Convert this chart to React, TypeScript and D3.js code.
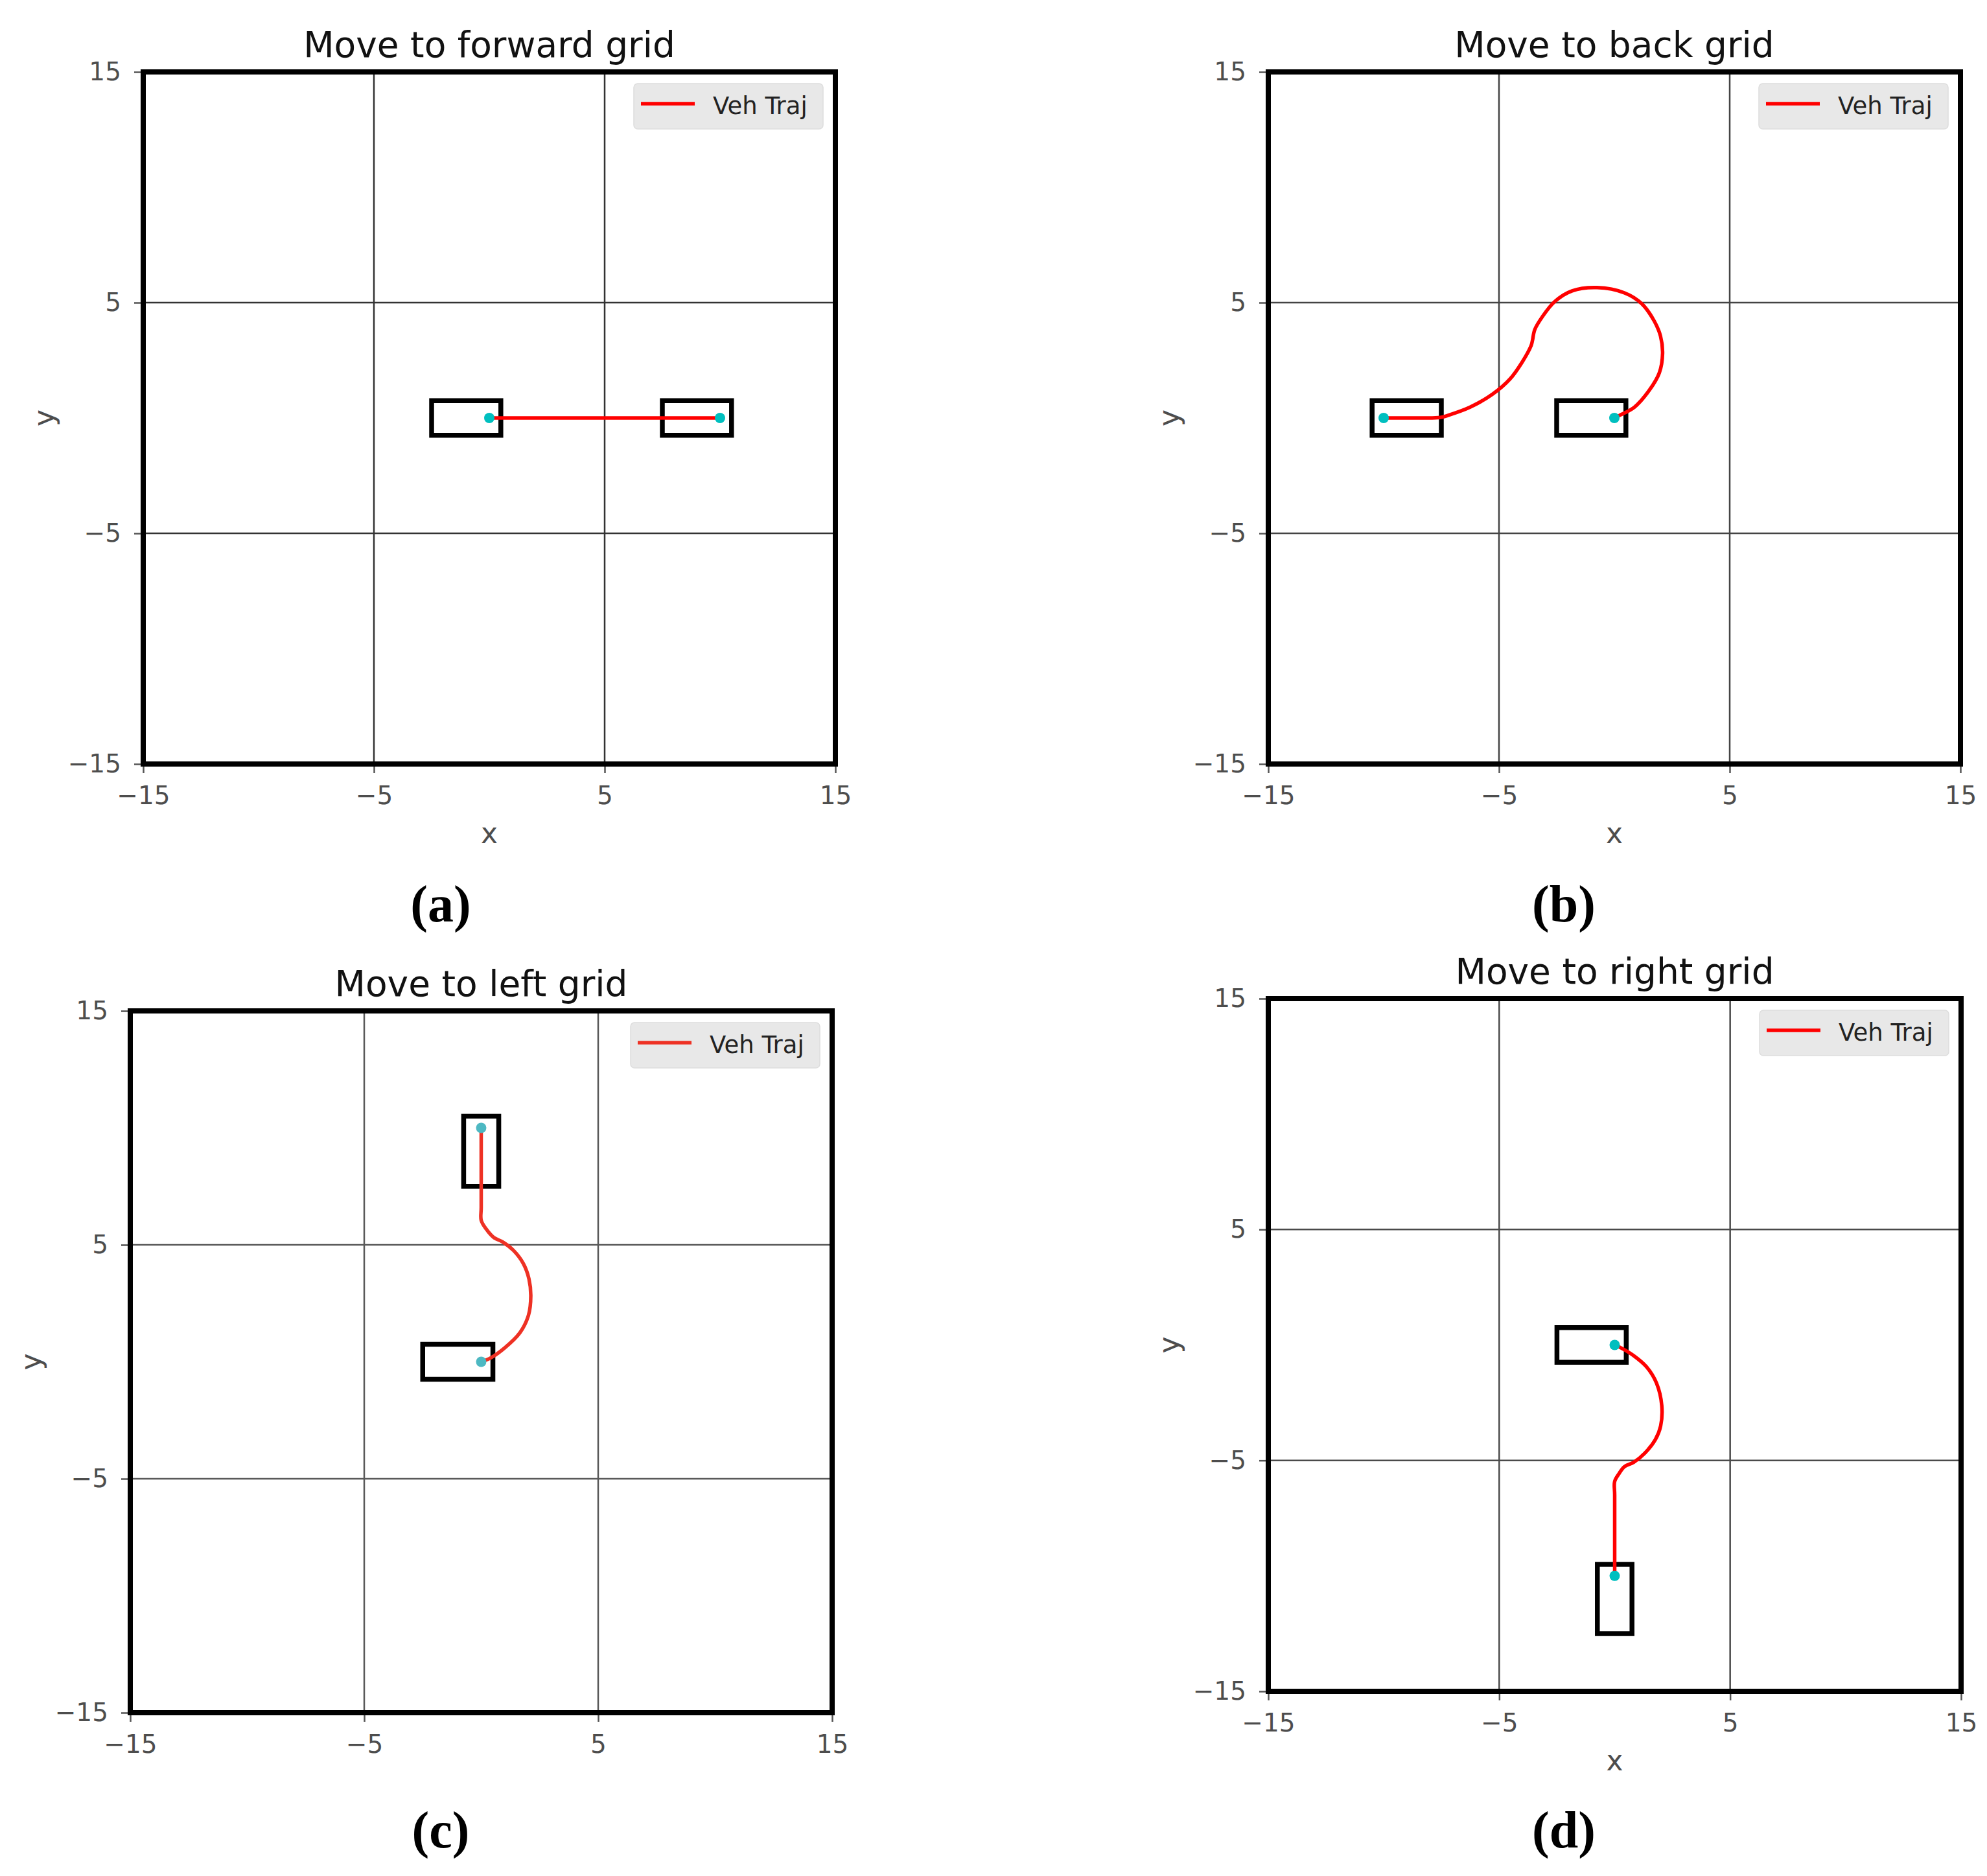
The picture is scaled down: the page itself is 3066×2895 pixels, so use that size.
import * as d3 from 'd3'
import React, { useEffect, useRef } from 'react'

type Pt = [number, number]
// x, y, heading in degrees
type Pose = [number, number, number]

const panelTitles = ['Move to forward grid', 'Move to back grid', 'Move to left grid', 'Move to right grid']
const panelTags = ['(a)', '(b)', '(c)', '(d)']
const axisTicks = [-15, -5, 5, 15]
const legendLabel = 'Veh Traj'

const trajForward: Pt[] = [
  [0, 0],
  [10, 0],
]
const trajBack: Pt[] = [
  [0, 0], [0.22, 0.11], [0.87, 0.47], [1.52, 1.21], [1.95, 1.96], [2.09, 2.8], [2.0, 3.55],
  [1.73, 4.2], [1.19, 4.95], [0.44, 5.42], [-0.75, 5.65], [-1.83, 5.51], [-2.58, 5.05],
  [-3.12, 4.39], [-3.45, 3.83], [-3.55, 3.36], [-3.61, 3.13], [-3.99, 2.43], [-4.53, 1.68],
  [-5.28, 1.03], [-6.25, 0.47], [-7.22, 0.11], [-7.55, 0.02], [-8.5, 0], [-10, 0],
]
const trajLeft: Pt[] = [
  [0, 0], [0.36, 0.14], [1.01, 0.6], [1.66, 1.25], [2.02, 1.99], [2.12, 2.82], [2.04, 3.55],
  [1.8, 4.2], [1.38, 4.76], [0.92, 5.12], [0.54, 5.31], [0.21, 5.68], [0, 6.05], [0, 6.6], [0, 10],
]
const trajRight: Pt[] = [
  [0, 0], [0.28, -0.13], [0.83, -0.47], [1.39, -0.96], [1.81, -1.65], [2.04, -2.63], [1.99, -3.51],
  [1.76, -4.1], [1.3, -4.69], [0.83, -5.08], [0.42, -5.27], [0.19, -5.57], [0, -5.91], [0, -6.5], [0, -10],
]

const posesForward: Pose[] = [[0, 0, 0], [10, 0, 0]]
const posesBack: Pose[] = [[0, 0, 0], [-10, 0, 180]]
const posesLeft: Pose[] = [[0, 0, 0], [0, 10, 90]]
const posesRight: Pose[] = [[0, 0, 0], [0, -10, 90]]

// vehicle outline in its own frame (rear overhang, front overhang, half width)
const vehRear = 2.5
const vehFront = 0.5
const vehHalf = 0.75

const trajs = [trajForward, trajBack, trajLeft, trajRight]
const poses = [posesForward, posesBack, posesLeft, posesRight]

// page layout of the four panels
const layout = [
  { left: 221, top: 111, size: 1068, tagX: 680, tagY: 1422, xLabel: true, line: '#ff0000', dot: '#00bfbf', grid: '#333' },
  { left: 1957, top: 111, size: 1068, tagX: 2413, tagY: 1422, xLabel: true, line: '#ff0000', dot: '#00bfbf', grid: '#444' },
  { left: 201, top: 1560, size: 1083, tagX: 680, tagY: 2851, xLabel: false, line: '#ee3124', dot: '#4db8c2', grid: '#5a5a5a' },
  { left: 1957, top: 1541, size: 1069, tagX: 2413, tagY: 2851, xLabel: true, line: '#ff0000', dot: '#00bfbf', grid: '#4a4a4a' },
]

const FONT = '"DejaVu Sans", sans-serif'

const vehCorners = (p: Pose): Pt[] => {
  const a = (p[2] * Math.PI) / 180
  const local: Pt[] = [
    [-vehRear, -vehHalf],
    [vehFront, -vehHalf],
    [vehFront, vehHalf],
    [-vehRear, vehHalf],
  ]
  return local.map(([lx, ly]) => [p[0] + lx * Math.cos(a) - ly * Math.sin(a), p[1] + lx * Math.sin(a) + ly * Math.cos(a)])
}

const App = () => {
  const ref = useRef<SVGSVGElement>(null)

  useEffect(() => {
    if (!ref.current) return
    const svg = d3.select(ref.current)
    svg.selectAll('*').remove()

    svg.append('rect').attr('width', 3066).attr('height', 2895).attr('fill', '#fff')

    layout.forEach((L, i) => {
      const x = d3.scaleLinear().domain([-15, 15]).range([L.left, L.left + L.size])
      const y = d3.scaleLinear().domain([-15, 15]).range([L.top + L.size, L.top])
      const g = svg.append('g')
      const inner = axisTicks.filter((t) => t > -15 && t < 15)

      // grid
      g.selectAll('line.gx')
        .data(inner)
        .join('line')
        .attr('x1', (d) => x(d))
        .attr('x2', (d) => x(d))
        .attr('y1', y(15))
        .attr('y2', y(-15))
        .attr('stroke', L.grid)
        .attr('stroke-width', 2.5)
      g.selectAll('line.gy')
        .data(inner)
        .join('line')
        .attr('y1', (d) => y(d))
        .attr('y2', (d) => y(d))
        .attr('x1', x(-15))
        .attr('x2', x(15))
        .attr('stroke', L.grid)
        .attr('stroke-width', 2.5)

      // vehicle outlines
      const outline = d3
        .line<Pt>()
        .x((d) => x(d[0]))
        .y((d) => y(d[1]))
      g.selectAll('path.veh')
        .data(poses[i])
        .join('path')
        .attr('d', (p) => outline(vehCorners(p)) + 'Z')
        .attr('fill', 'none')
        .attr('stroke', '#000')
        .attr('stroke-width', 7.5)
        .attr('stroke-linejoin', 'miter')

      // trajectory
      const traj = d3
        .line<Pt>()
        .x((d) => x(d[0]))
        .y((d) => y(d[1]))
        .curve(d3.curveCatmullRom.alpha(0.5))
      g.append('path')
        .attr('d', traj(trajs[i]))
        .attr('fill', 'none')
        .attr('stroke', L.line)
        .attr('stroke-width', 5.5)
        .attr('stroke-linejoin', 'round')

      g.selectAll('circle')
        .data(poses[i])
        .join('circle')
        .attr('cx', (p) => x(p[0]))
        .attr('cy', (p) => y(p[1]))
        .attr('r', 8)
        .attr('fill', L.dot)

      // axes
      const fmt = d3.format('d')
      const ya = g
        .append('g')
        .attr('transform', `translate(${L.left},0)`)
        .call(d3.axisLeft(y).tickValues(axisTicks).tickSize(14).tickPadding(20).tickFormat((d) => fmt(d as number)))
      const xa = g
        .append('g')
        .attr('transform', `translate(0,${L.top + L.size})`)
        .call(d3.axisBottom(x).tickValues(axisTicks).tickSize(14).tickPadding(20).tickFormat((d) => fmt(d as number)))
      ;[ya, xa].forEach((a) => {
        a.select('.domain').remove()
        a.selectAll('line').attr('stroke', '#555').attr('stroke-width', 2.5)
        a.selectAll('text').attr('font-size', 39).attr('font-family', FONT).attr('fill', '#4d4d4d')
      })

      // frame
      g.append('rect')
        .attr('x', L.left)
        .attr('y', L.top)
        .attr('width', L.size)
        .attr('height', L.size)
        .attr('fill', 'none')
        .attr('stroke', '#000')
        .attr('stroke-width', 8)

      // title
      g.append('text')
        .attr('x', L.left + L.size / 2)
        .attr('y', L.top - 23)
        .attr('text-anchor', 'middle')
        .attr('font-family', FONT)
        .attr('font-size', 55)
        .attr('fill', '#111')
        .text(panelTitles[i])

      // axis labels
      if (L.xLabel) {
        g.append('text')
          .attr('x', L.left + L.size / 2)
          .attr('y', L.top + L.size + 122)
          .attr('text-anchor', 'middle')
          .attr('font-family', FONT)
          .attr('font-size', 44)
          .attr('fill', '#4d4d4d')
          .text('x')
      }
      g.append('text')
        .attr('transform', `translate(${L.left - 138},${L.top + L.size / 2}) rotate(-90)`)
        .attr('text-anchor', 'middle')
        .attr('font-family', FONT)
        .attr('font-size', 44)
        .attr('fill', '#4d4d4d')
        .text('y')

      // legend
      const lx = L.left + L.size - 19 - 292
      const ly = L.top + 18
      g.append('rect')
        .attr('x', lx)
        .attr('y', ly)
        .attr('width', 292)
        .attr('height', 70)
        .attr('rx', 6)
        .attr('fill', '#e8e8e8')
        .attr('stroke', '#dddddd')
        .attr('stroke-width', 1.5)
      g.append('line')
        .attr('x1', lx + 11)
        .attr('x2', lx + 94)
        .attr('y1', ly + 31)
        .attr('y2', ly + 31)
        .attr('stroke', L.line)
        .attr('stroke-width', 5.5)
      g.append('text')
        .attr('x', lx + 122)
        .attr('y', ly + 47)
        .attr('font-family', FONT)
        .attr('font-size', 37)
        .attr('fill', '#222')
        .text(legendLabel)

      // sub caption
      svg
        .append('text')
        .attr('x', L.tagX)
        .attr('y', L.tagY)
        .attr('text-anchor', 'middle')
        .attr('font-family', '"Liberation Serif", serif')
        .attr('font-weight', 'bold')
        .attr('font-size', 80)
        .attr('fill', '#000')
        .text(panelTags[i])
    })
  }, [])

  return <svg ref={ref} width={3066} height={2895} style={{ position: 'absolute', left: 0, top: 0 }} />
}

export default App
